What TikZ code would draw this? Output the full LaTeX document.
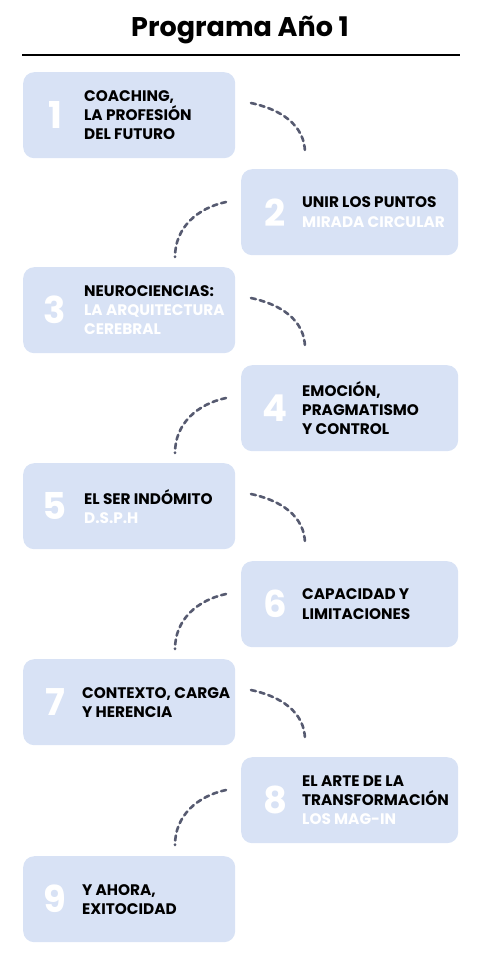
\documentclass[tikz,border=0pt]{standalone}
\usepackage{fontspec}
\setmainfont{Poppins}
\definecolor{boxfill}{HTML}{D8E2F5}
\definecolor{dashc}{HTML}{565A70}
\begin{document}
\begin{tikzpicture}[x=1pt,y=-1pt,
  card/.style={fill=boxfill, rounded corners=11pt, minimum width=212pt, minimum height=86pt, inner sep=0pt, anchor=north west},
  rcard/.style={card, minimum width=217pt},
  num/.style={text=white, font=\bfseries\fontsize{37}{37}\selectfont, anchor=center},
  lbl/.style={font=\bfseries\fontsize{15.3}{19.2}\selectfont, align=left, anchor=west, text=black, inner sep=0pt},
  link/.style={draw=dashc, line width=2.6pt, dash pattern=on 5pt off 4pt, line cap=round}]
\useasboundingbox (0,0) rectangle (480,968);
\node[font=\bfseries\fontsize{27}{27}\selectfont] (title) at (240,30) {Programa Año 1};
\coordinate (rl) at (22,55); \coordinate (rr) at (460,55);
\draw[line width=1.3pt] (rl) -- (rr);
% cards
\node[card] (b1) at (23,72) {};
\node[rcard] (b2) at (241,169) {};
\node[card] (b3) at (23,267) {};
\node[rcard] (b4) at (241,365) {};
\node[card] (b5) at (23,463) {};
\node[rcard] (b6) at (241,561) {};
\node[card] (b7) at (23,659) {};
\node[rcard] (b8) at (241,757) {};
\node[card] (b9) at (23,856) {};
% numbers
\foreach \i in {1,3,5,7,9} {\node[num] (n\i) at ([xshift=32pt]b\i.west) {\i};}
\foreach \i in {2,4,6,8} {\node[num] (n\i) at ([xshift=34pt]b\i.west) {\i};}
% labels
\node[lbl] (t1) at ([xshift=61pt]b1.west) {COACHING,\\LA PROFESIÓN\\DEL FUTURO};
\node[lbl] (t2) at ([xshift=61pt]b2.west) {UNIR LOS PUNTOS\\\textcolor{white}{MIRADA CIRCULAR}};
\node[lbl] (t3) at ([xshift=61pt]b3.west) {NEUROCIENCIAS:\\\textcolor{white}{LA ARQUITECTURA}\\\textcolor{white}{CEREBRAL}};
\node[lbl] (t4) at ([xshift=61pt]b4.west) {EMOCIÓN,\\PRAGMATISMO\\Y CONTROL};
\node[lbl] (t5) at ([xshift=61pt]b5.west) {EL SER INDÓMITO\\\textcolor{white}{D.S.P.H}};
\node[lbl] (t6) at ([xshift=61pt]b6.west) {CAPACIDAD Y\\LIMITACIONES};
\node[lbl] (t7) at ([xshift=59pt]b7.west) {CONTEXTO, CARGA\\Y HERENCIA};
\node[lbl] (t8) at ([xshift=61pt]b8.west) {EL ARTE DE LA\\TRANSFORMACIÓN\\\textcolor{white}{LOS MAG-IN}};
\node[lbl] (t9) at ([xshift=59pt]b9.west) {Y AHORA,\\EXITOCIDAD};
% connectors
\foreach \a/\t in {r1/72,r3/267,r5/463,r7/659} {
  \coordinate (\a s) at (251,\t+31);
  \coordinate (\a e) at (305,\t+81);
  \draw[link] (\a s) to[out=-12,in=90] (\a e);
}
\foreach \a/\t in {l2/169,l4/365,l6/561,l8/757} {
  \coordinate (\a s) at (226,\t+33);
  \coordinate (\a e) at (175,\t+88);
  \draw[link] (\a s) to[out=192,in=90] (\a e);
}
\end{tikzpicture}
\end{document}
